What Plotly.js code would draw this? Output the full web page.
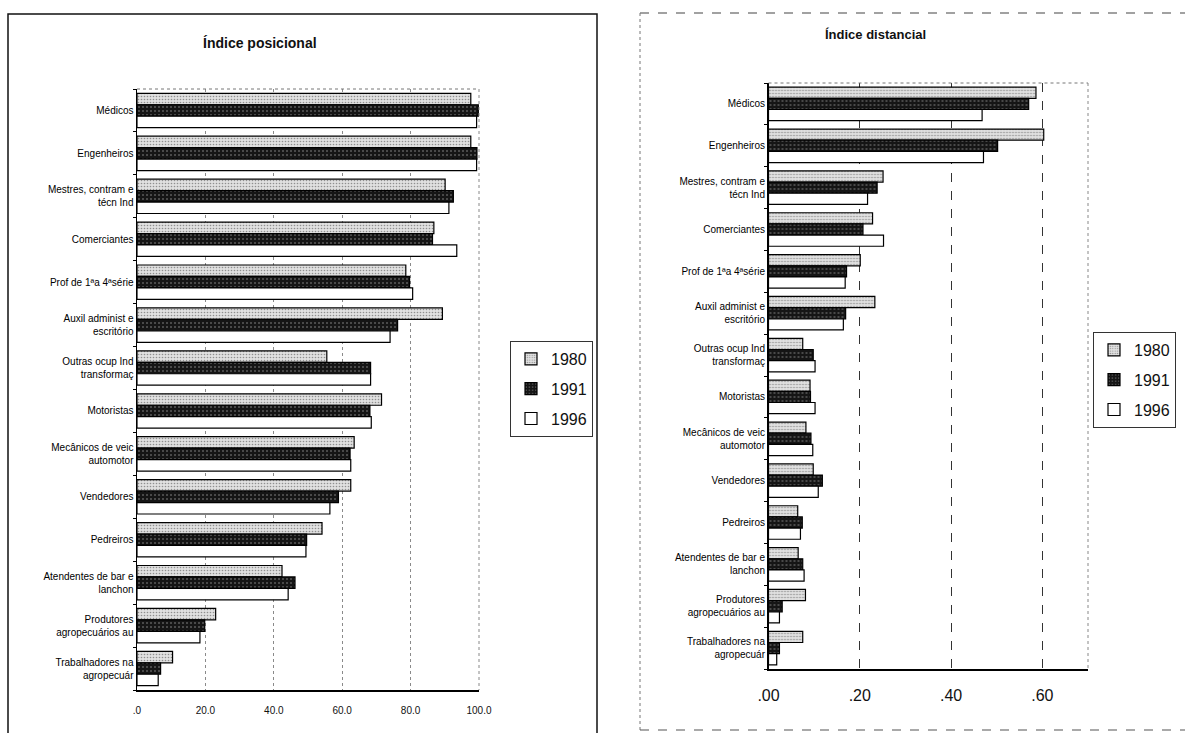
<!DOCTYPE html>
<html>
<head>
<meta charset="utf-8">
<script src="https://cdn.plot.ly/plotly-3.0.1.min.js"></script>
<style>
  html, body { margin: 0; padding: 0; background: #fff; }
  #chart { width: 1185px; height: 733px; }
</style>
</head>
<body>
<div id="chart"></div>
<script>
// Occupations, top to bottom
const categories = [
  "Médicos", "Engenheiros", "Mestres, contram e técn Ind", "Comerciantes",
  "Prof de 1ª a 4ª série", "Auxil administ e escritório", "Outras ocup Ind transformaç",
  "Motoristas", "Mecânicos de veic automotor", "Vendedores", "Pedreiros",
  "Atendentes de bar e lanchon", "Produtores agropecuários au", "Trabalhadores na agropecuár"
];
const categoryLabels = [
  "Médicos", "Engenheiros", "Mestres, contram e<br>técn Ind", "Comerciantes",
  "Prof de 1ªa 4ªsérie", "Auxil administ e<br>escritório", "Outras ocup Ind<br>transformaç",
  "Motoristas", "Mecânicos de veic<br>automotor", "Vendedores", "Pedreiros",
  "Atendentes de bar e<br>lanchon", "Produtores<br>agropecuários au", "Trabalhadores na<br>agropecuár"
];
const years = ["1980", "1991", "1996"];

// Índice posicional (0–100)
const posicional1980 = [97.6, 97.6, 90.1, 86.8, 78.6, 89.3, 55.5, 71.5, 63.5, 62.5, 54.1, 42.4, 23.0, 10.4];
const posicional1991 = [99.8, 99.4, 92.5, 86.4, 79.7, 76.2, 68.3, 68.1, 62.3, 58.9, 49.6, 46.2, 19.8, 6.9];
const posicional1996 = [99.3, 99.3, 91.2, 93.5, 80.6, 74.0, 68.3, 68.5, 62.5, 56.4, 49.4, 44.2, 18.4, 6.2];

// Índice distancial
const distancial1980 = [0.586, 0.603, 0.251, 0.228, 0.201, 0.233, 0.075, 0.091, 0.082, 0.098, 0.064, 0.065, 0.081, 0.075];
const distancial1991 = [0.570, 0.502, 0.238, 0.207, 0.171, 0.169, 0.098, 0.092, 0.093, 0.118, 0.074, 0.075, 0.030, 0.024];
const distancial1996 = [0.468, 0.471, 0.217, 0.252, 0.168, 0.164, 0.102, 0.102, 0.097, 0.109, 0.070, 0.078, 0.024, 0.018];

const posTickVals = [0, 20, 40, 60, 80, 100];
const posTickText = [".0", "20.0", "40.0", "60.0", "80.0", "100.0"];
const distTickVals = [0, 0.2, 0.4, 0.6];
const distTickText = [".00", ".20", ".40", ".60"];

const W = 1185, H = 733;
const px = v => v / W;
const py = v => 1 - v / H;

const styles = [
  { color: "#d8d8d8", pattern: { shape: ".", fgcolor: "#8f8f8f", bgcolor: "#e0e0e0", size: 3, solidity: 0.22 } },
  { color: "#151515", pattern: { shape: ".", fgcolor: "#5a5a5a", bgcolor: "#151515", size: 4, solidity: 0.2 } },
  { color: "#ffffff", pattern: { shape: "" } }
];

function barTrace(values, i, xa, ya, legend) {
  return {
    type: "bar", orientation: "h",
    x: values, y: categories,
    name: years[i],
    xaxis: xa, yaxis: ya,
    legend: legend, legendgroup: legend + years[i], showlegend: true,
    marker: {
      color: styles[i].color,
      pattern: styles[i].pattern,
      line: { color: "#000", width: 1.2 }
    },
    hoverinfo: "x+y+name"
  };
}

const data = [
  barTrace(posicional1980, 0, "x", "y", "legend"),
  barTrace(posicional1991, 1, "x", "y", "legend"),
  barTrace(posicional1996, 2, "x", "y", "legend"),
  barTrace(distancial1980, 0, "x2", "y2", "legend2"),
  barTrace(distancial1991, 1, "x2", "y2", "legend2"),
  barTrace(distancial1996, 2, "x2", "y2", "legend2")
];

const fontFam = "Arial, 'Liberation Sans', sans-serif";

const yAxisCommon = {
  type: "category",
  autorange: "reversed",
  tickvals: categories,
  ticktext: categoryLabels,
  tickson: "boundaries",
  ticks: "outside", ticklen: 3, tickcolor: "#000",
  showline: true, linecolor: "#000", linewidth: 1.5,
  tickfont: { family: fontFam, size: 10, color: "#000" },
  showgrid: false, zeroline: false, fixedrange: true
};

const legendCommon = {
  xanchor: "left", yanchor: "top",
  bgcolor: "#fff", bordercolor: "#333", borderwidth: 1,
  font: { family: fontFam, size: 16, color: "#111" },
  traceorder: "grouped", tracegroupgap: 6, itemwidth: 30
};

const layout = {
  width: W, height: H,
  margin: { l: 0, r: 0, t: 0, b: 0 },
  paper_bgcolor: "#fff", plot_bgcolor: "rgba(0,0,0,0)",
  font: { family: fontFam, color: "#111" },
  barmode: "group", bargap: 0.2, bargroupgap: 0,
  xaxis: {
    domain: [px(137), px(479)], anchor: "y",
    range: [0, 100], tickvals: posTickVals, ticktext: posTickText,
    showgrid: true, gridcolor: "#8a8a8a", griddash: "dot", gridwidth: 1,
    showline: true, linecolor: "#000", linewidth: 1.5,
    ticks: "", zeroline: false, ticklabelstandoff: 10,
    tickfont: { family: fontFam, size: 10, color: "#111" }, fixedrange: true
  },
  yaxis: Object.assign({ domain: [py(690), py(89)], anchor: "x" }, yAxisCommon),
  xaxis2: {
    domain: [px(768.5), px(1088)], anchor: "y2",
    range: [0, 0.7], tickvals: distTickVals, ticktext: distTickText,
    showgrid: true, gridcolor: "#333", griddash: "dash", gridwidth: 1,
    showline: true, linecolor: "#000", linewidth: 1.5,
    ticks: "", zeroline: false, ticklabelstandoff: 11,
    tickfont: { family: fontFam, size: 16, color: "#111" }, fixedrange: true
  },
  yaxis2: Object.assign({ domain: [py(669), py(83)], anchor: "x2" }, yAxisCommon),
  legend: Object.assign({ x: px(510), y: py(341) }, legendCommon),
  legend2: Object.assign({ x: px(1093), y: py(332) }, legendCommon),
  annotations: [
    { text: "<b>Índice posicional</b>", xref: "paper", yref: "paper",
      x: px(260), y: py(43), xanchor: "center", yanchor: "middle",
      showarrow: false, font: { family: fontFam, size: 14, color: "#111" } },
    { text: "<b>Índice distancial</b>", xref: "paper", yref: "paper",
      x: px(875), y: py(34), xanchor: "center", yanchor: "middle",
      showarrow: false, font: { family: fontFam, size: 13, color: "#111" } }
  ],
  shapes: [
    // outer frames of both panels
    { type: "rect", xref: "paper", yref: "paper",
      x0: px(8), x1: px(597), y0: py(745), y1: py(14),
      line: { color: "#111", width: 1.5 } },
    { type: "line", xref: "paper", yref: "paper",
      x0: px(640), x1: px(1190), y0: py(13), y1: py(13),
      line: { color: "#444", width: 1.2, dash: "dash" } },
    { type: "line", xref: "paper", yref: "paper",
      x0: px(640), x1: px(640), y0: py(13), y1: py(730),
      line: { color: "#777", width: 1, dash: "dot" } },
    { type: "line", xref: "paper", yref: "paper",
      x0: px(640), x1: px(1190), y0: py(730), y1: py(730),
      line: { color: "#555", width: 1.2, dash: "dash" } },
    // dotted plot-area borders (top and right)
    { type: "line", xref: "paper", yref: "paper",
      x0: px(137), x1: px(479), y0: py(89), y1: py(89),
      line: { color: "#777", width: 1, dash: "dot" } },
    { type: "line", xref: "paper", yref: "paper",
      x0: px(479), x1: px(479), y0: py(89), y1: py(690),
      line: { color: "#888", width: 1, dash: "dot" } },
    { type: "line", xref: "paper", yref: "paper",
      x0: px(768.5), x1: px(1088), y0: py(83), y1: py(83),
      line: { color: "#777", width: 1, dash: "dot" } },
    { type: "line", xref: "paper", yref: "paper",
      x0: px(1088), x1: px(1088), y0: py(83), y1: py(669),
      line: { color: "#888", width: 1, dash: "dot" } }
  ]
};

Plotly.newPlot("chart", data, layout, { displayModeBar: false, staticPlot: true });
</script>
</body>
</html>
